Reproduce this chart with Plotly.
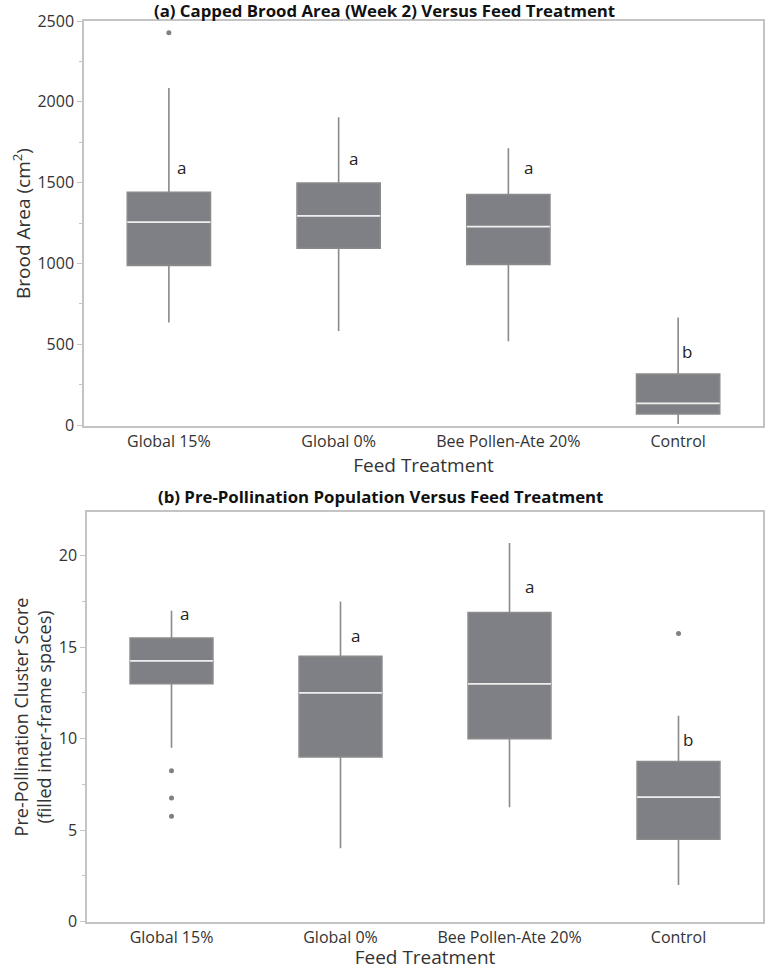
import plotly.graph_objects as go

categories = ["Global 15%", "Global 0%", "Bee Pollen-Ate 20%", "Control"]

# Panel (a): capped brood area (cm^2), week 2
a_lower = [634, 582, 518, 6]
a_q1 = [988, 1094, 994, 68]
a_median = [1255, 1294, 1228, 134]
a_q3 = [1440, 1498, 1426, 315]
a_upper = [2085, 1905, 1712, 665]
a_out_x = ["Global 15%"]
a_out_y = [2428]
a_letters = ["a", "a", "a", "b"]
a_letter_y = [1593, 1648, 1593, 457]

# Panel (b): pre-pollination cluster score
b_lower = [9.5, 4.0, 6.25, 2.0]
b_q1 = [13.0, 9.0, 10.0, 4.5]
b_median = [14.25, 12.5, 13.0, 6.8]
b_q3 = [15.5, 14.5, 16.9, 8.75]
b_upper = [17.0, 17.5, 20.7, 11.25]
b_out_x = ["Global 15%", "Global 15%", "Global 15%", "Control"]
b_out_y = [8.25, 6.75, 5.75, 15.75]
b_letters = ["a", "a", "a", "b"]
b_letter_y = [16.87, 15.67, 18.35, 9.93]

letter_shift = [13, 15, 20, 9]

BOX_FILL = "#7f8085"
WHISK = "#8a8a8a"
FONT = "Open Sans"
AXCOL = "#c4c4c4"
TXT = "#333333"

W = 768
H = 970


def px_x(p):
    return p / W


def px_y(p):
    return (H - p) / H


fig = go.Figure()


def add_panel(xa, ya, lower, q1, med, q3, upper, ox, oy):
    fig.add_trace(go.Box(
        x=categories, q1=q1, median=med, q3=q3, lowerfence=lower, upperfence=upper,
        fillcolor=BOX_FILL, line=dict(color=WHISK, width=1.6), width=0.49,
        whiskerwidth=0, boxpoints=False, xaxis=xa, yaxis=ya,
        showlegend=False, hoverinfo="skip"))
    fig.add_trace(go.Box(
        x=categories, q1=med, median=med, q3=med, lowerfence=med, upperfence=med,
        fillcolor="rgba(0,0,0,0)", line=dict(color="#eeeeee", width=1.8), width=0.49,
        whiskerwidth=0, boxpoints=False, xaxis=xa, yaxis=ya,
        showlegend=False, hoverinfo="skip"))
    fig.add_trace(go.Scatter(
        x=ox, y=oy, mode="markers", marker=dict(color="#808080", size=5),
        xaxis=xa, yaxis=ya, showlegend=False, hoverinfo="skip"))


add_panel("x", "y", a_lower, a_q1, a_median, a_q3, a_upper, a_out_x, a_out_y)
add_panel("x2", "y2", b_lower, b_q1, b_median, b_q3, b_upper, b_out_x, b_out_y)

for i, c in enumerate(categories):
    fig.add_annotation(x=c, y=a_letter_y[i], text=a_letters[i], xref="x", yref="y",
                       showarrow=False, xshift=letter_shift[i],
                       font=dict(family=FONT, size=17, color="#222222"))
    fig.add_annotation(x=c, y=b_letter_y[i], text=b_letters[i], xref="x2", yref="y2",
                       showarrow=False, xshift=letter_shift[i],
                       font=dict(family=FONT, size=17, color="#222222"))

fig.add_annotation(text="<b>(a) Capped Brood Area (Week 2) Versus Feed Treatment</b>",
                   x=px_x(384), y=px_y(11), xref="paper", yref="paper", showarrow=False,
                   xanchor="center", yanchor="middle",
                   font=dict(family=FONT, size=16.8, color="#111111"))
fig.add_annotation(text="<b>(b) Pre-Pollination Population Versus Feed Treatment</b>",
                   x=px_x(380), y=px_y(497), xref="paper", yref="paper", showarrow=False,
                   xanchor="center", yanchor="middle",
                   font=dict(family=FONT, size=16.8, color="#111111"))

common_x = dict(type="category", showline=True, linecolor=AXCOL, linewidth=1.5, mirror=True,
                ticks="", tickfont=dict(family=FONT, size=16, color=TXT), automargin=False,
                showgrid=False, zeroline=False, range=[-0.5, 3.5],
                title=dict(text="Feed Treatment", font=dict(family=FONT, size=19, color=TXT), standoff=8))
common_y = dict(showline=True, linecolor=AXCOL, linewidth=1.5, mirror=True,
                ticks="outside", ticklen=5, tickcolor=AXCOL, automargin=False,
                tickfont=dict(family=FONT, size=16, color=TXT),
                showgrid=False, zeroline=False)

fig.update_layout(
    width=W, height=H,
    margin=dict(l=0, r=0, t=0, b=0, autoexpand=False),
    paper_bgcolor="white", plot_bgcolor="white",
    font=dict(family=FONT, color=TXT),
    xaxis=dict(common_x, domain=[px_x(84), px_x(763)], anchor="y"),
    yaxis=dict(common_y, domain=[px_y(426), px_y(21)], anchor="x",
               range=[-6, 2500], dtick=500,
               minor=dict(dtick=250, ticks="outside", ticklen=3, tickcolor=AXCOL),
               title=dict(text="Brood Area (cm<sup>2</sup>)", font=dict(family=FONT, size=19, color=TXT), standoff=2)),
    xaxis2=dict(common_x, domain=[px_x(87), px_x(763)], anchor="y2"),
    yaxis2=dict(common_y, domain=[px_y(922), px_y(512)], anchor="x2",
                range=[-0.03, 22.4], dtick=5,
                minor=dict(dtick=2.5, ticks="outside", ticklen=3, tickcolor=AXCOL),
                title=dict(text="Pre-Pollination Cluster Score<br>(filled inter-frame spaces)",
                           font=dict(family=FONT, size=18, color=TXT), standoff=2)),
)

fig.write_html("out.html", config={"displayModeBar": False},
               post_script="document.body.style.margin='0px';document.body.style.padding='0px';")
